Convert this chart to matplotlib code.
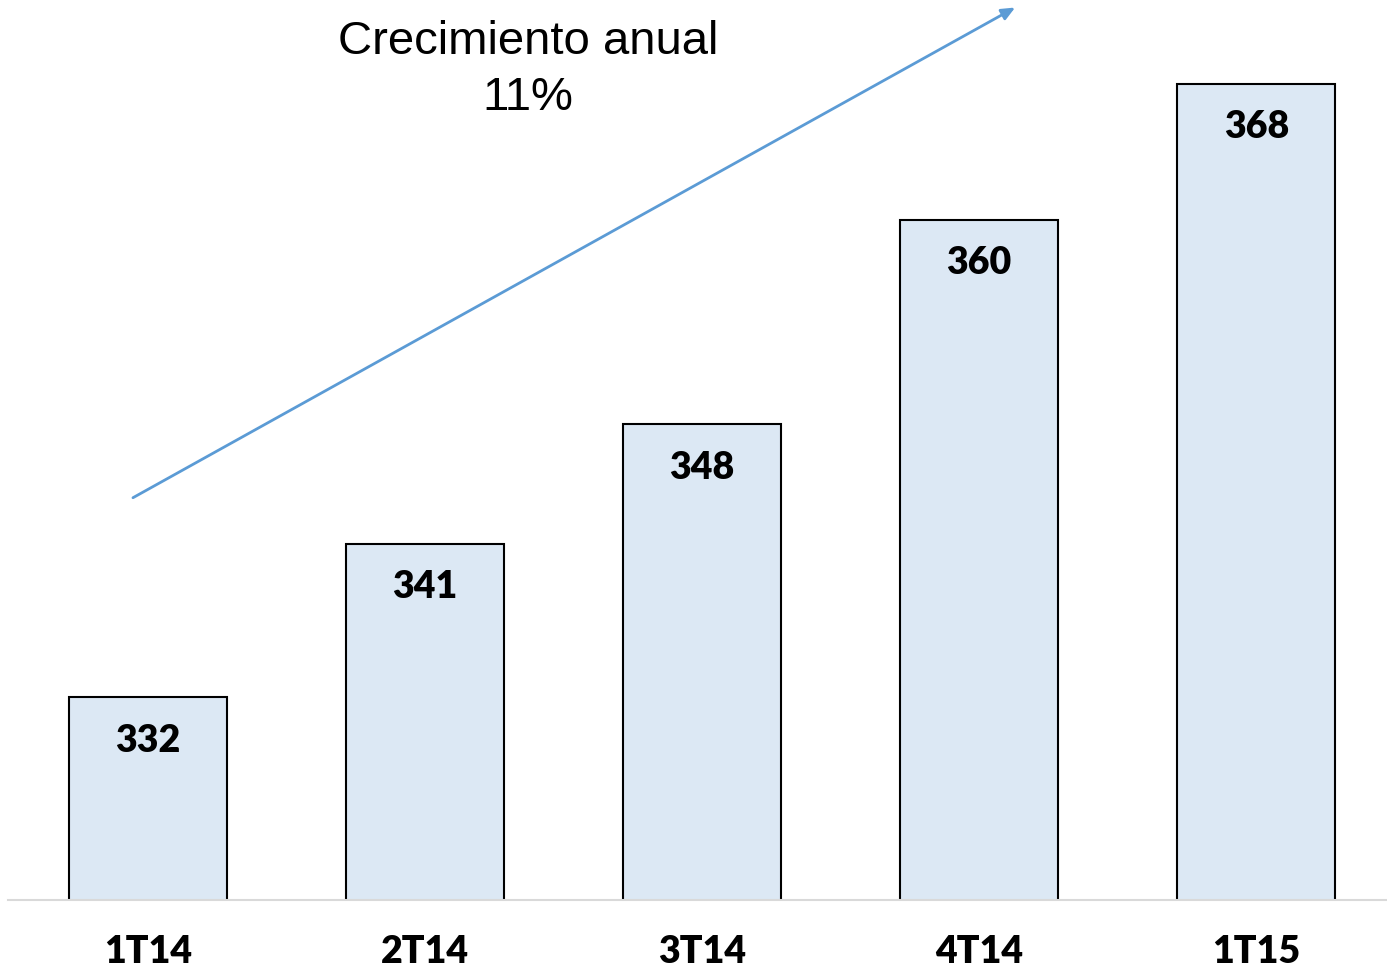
import matplotlib
matplotlib.use('Agg')
import matplotlib.pyplot as plt

# data
quarters = ['1T14', '2T14', '3T14', '4T14', '1T15']
values = [332, 341, 348, 360, 368]
growth_text = 'Crecimiento anual\n11%'

fig = plt.figure(figsize=(13.87, 9.73), dpi=100)
ax = fig.add_axes([8 / 1387, 73 / 973, 1379 / 1387, 900 / 973])

x = range(len(quarters))
bars = ax.bar(x, values, width=0.572, color='#DCE8F4', edgecolor='black', lw=1.5, zorder=2)

ax.set_ylim(320.1, 372.9)
ax.set_xlim(-0.505, 4.472)

for b, v in zip(bars, values):
    ax.annotate(str(v), (b.get_x() + b.get_width() / 2, v), xytext=(0, -19),
                textcoords='offset points', ha='center', va='top',
                fontsize=27, fontweight='heavy', family='Lato', zorder=3)

ax.set_xticks(list(x))
ax.set_xticklabels(quarters, fontsize=27, fontweight='heavy', family='Lato')
ax.tick_params(axis='x', length=0, pad=25)
ax.set_yticks([])

for s in ['top', 'left', 'right']:
    ax.spines[s].set_visible(False)
ax.spines['bottom'].set_color('#D9D9D9')
ax.spines['bottom'].set_linewidth(1.5)

# growth arrow
ax.annotate('', xy=(3.13, 372.46), xytext=(-0.054, 343.7),
            arrowprops=dict(arrowstyle='-|>,head_length=0.8,head_width=0.35',
                            color='#5B9BD5', lw=2, shrinkA=0, shrinkB=0),
            annotation_clip=False, zorder=4)

ax.text(1.372, 368.8, growth_text, ha='center', va='center', multialignment='center',
        fontsize=34, family='Liberation Sans', linespacing=1.35)

fig.savefig('out.png', dpi=100)
